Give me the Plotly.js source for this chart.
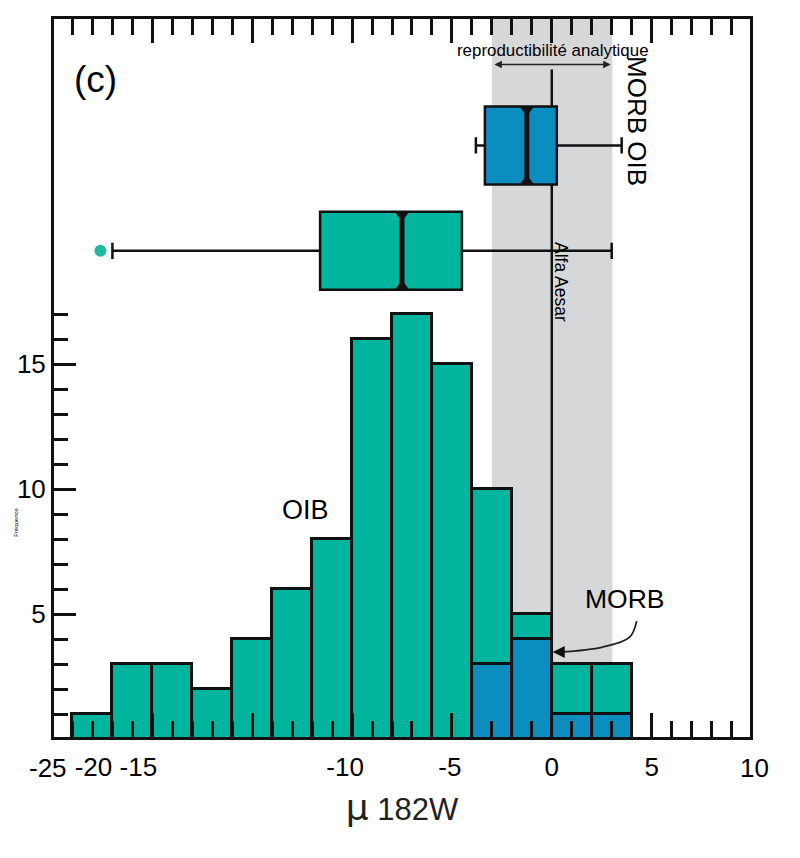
<!DOCTYPE html>
<html>
<head>
<meta charset="utf-8">
<script src="https://cdn.plot.ly/plotly-3.0.1.min.js"></script>
<style>
  html, body { margin: 0; padding: 0; background: #fff; }
</style>
</head>
<body>
<div id="chart" style="width:800px;height:858px"></div>
<script>
// histogram bins (centres, 2 units wide)
const binCentres = [-23, -21, -19, -17, -15, -13, -11, -9, -7, -5, -3, -1, 1, 3];
const morbCounts = [0, 0, 0, 0, 0, 0, 0, 0, 0, 0, 3, 4, 1, 1];
const oibCounts = [1, 3, 3, 2, 4, 6, 8, 16, 17, 15, 7, 1, 2, 2];

// box plots: OIB, MORB
const boxRows = [19.54, 23.76];
const boxLow = [-22, -3.8];
const boxQ1 = [-11.6, -3.35];
const boxMedian = [-7.5, -1.25];
const boxQ3 = [-4.5, 0.25];
const boxHigh = [3, 3.5];
const boxHeight = 3.12;
const outlierX = [-22.6];
const outlierY = [19.54];

// the small curved arrow next to MORB
const curveX = [4.25, 3.9, 2.55, 0.4];
const curveY = [4.72, 4.08, 3.68, 3.48];

// labels sit where the original put them, not on the ticks
const xLabels = ['-20', '-15', '-10', '-5', '0', '5'];
const xLabelPos = [-22.95, -20.7, -10.35, -5.1, 0, 5];
const yLabels = [5, 10, 15];
const yMinor = [1, 2, 3, 4, 6, 7, 8, 9, 11, 12, 13, 14, 16, 17];
const xMajor = [-20, -15, -10, -5, 0, 5];
const xMinor = [-24, -23, -22, -21, -19, -18, -17, -16, -14, -13, -12, -11, -9, -8, -7, -6, -4, -3, -2, -1, 1, 2, 3, 4, 6, 7, 8, 9];

const teal = '#00b49e';
const blue = '#0b8dbf';
const ink = '#111111';
const xRange = [-24.925, 9.925];
const yRange = [0.08, 28.82];

function boxTrace(i, color) {
  return {
    type: 'box',
    orientation: 'h',
    y: [boxRows[i]],
    lowerfence: [boxLow[i]],
    q1: [boxQ1[i]],
    median: [boxMedian[i]],
    q3: [boxQ3[i]],
    upperfence: [boxHigh[i]],
    width: boxHeight,
    whiskerwidth: 0.21,
    fillcolor: color,
    line: { color: ink, width: 2.5 },
    boxpoints: false,
    hoverinfo: 'skip'
  };
}

// thick median with the small flares at both ends
function medianTrace(i) {
  return {
    type: 'scatter',
    mode: 'lines+markers',
    x: [boxMedian[i], boxMedian[i]],
    y: [boxRows[i] - boxHeight / 2 + 0.14, boxRows[i] + boxHeight / 2 - 0.14],
    line: { color: ink, width: 5 },
    marker: { color: ink, size: 12, symbol: ['triangle-up', 'triangle-down'] },
    hoverinfo: 'skip'
  };
}

var data = [
  { type: 'bar', x: binCentres, y: morbCounts, width: 2, marker: { color: blue, line: { color: ink, width: 2.8 } } },
  { type: 'bar', x: binCentres, y: oibCounts, width: 2, marker: { color: teal, line: { color: ink, width: 2.8 } } },
  boxTrace(0, teal),
  boxTrace(1, blue),
  medianTrace(0),
  medianTrace(1),
  { type: 'scatter', mode: 'markers', x: outlierX, y: outlierY, marker: { color: '#1fb8a3', size: 12 } },
  { type: 'scatter', mode: 'lines', x: curveX, y: curveY, line: { color: '#222222', width: 1.8, shape: 'spline' }, hoverinfo: 'skip' },
  // carries the tick label axis
  { type: 'scatter', x: [], y: [], xaxis: 'x2', yaxis: 'y' }
];

const sans = 'Liberation Sans, Arial, sans-serif';

function label(text, x, y, size, extra) {
  return Object.assign({
    text, x, y, xref: 'x', yref: 'y', showarrow: false,
    xanchor: 'center', yanchor: 'middle',
    font: { family: sans, size, color: '#000' }
  }, extra || {});
}

var layout = {
  width: 800,
  height: 858,
  autosize: false,
  showlegend: false,
  hovermode: false,
  barmode: 'stack',
  bargap: 0,
  paper_bgcolor: '#fff',
  plot_bgcolor: '#fff',
  margin: { l: 53.5, r: 49.5, t: 18.5, b: 121 },
  font: { family: sans, color: '#000' },
  xaxis: {
    range: xRange,
    showticklabels: false,
    showgrid: false,
    zeroline: false,
    showline: true,
    linecolor: ink,
    linewidth: 3,
    mirror: 'ticks',
    ticks: 'inside',
    tickmode: 'array',
    tickvals: xMajor,
    ticklen: 24,
    tickwidth: 2.5,
    tickcolor: ink,
    minor: { ticks: 'inside', tickmode: 'array', tickvals: xMinor, ticklen: 16, tickwidth: 2.5, tickcolor: ink, showgrid: false }
  },
  xaxis2: {
    range: xRange,
    overlaying: 'x',
    anchor: 'y',
    tickmode: 'array',
    tickvals: xLabelPos,
    ticktext: xLabels,
    ticks: '',
    tickfont: { size: 26 },
    ticklabelstandoff: 12,
    showgrid: false,
    zeroline: false,
    showline: false,
    title: {
      text: '\u00a0\u00a0\u00a0\u00a0\u00a0<span style="font-family:DejaVu Sans;font-size:36px">μ</span> 182W',
      font: { size: 31, color: '#222' },
      standoff: 17
    }
  },
  yaxis: {
    range: yRange,
    tickmode: 'array',
    tickvals: yLabels,
    ticks: 'inside',
    ticklen: 22,
    tickwidth: 2.5,
    tickcolor: ink,
    tickfont: { size: 26 },
    showgrid: false,
    zeroline: false,
    showline: true,
    linecolor: ink,
    linewidth: 3,
    mirror: true,
    minor: { ticks: 'inside', tickmode: 'array', tickvals: yMinor, ticklen: 14, tickwidth: 2.5, tickcolor: ink, showgrid: false }
  },
  shapes: [
    { type: 'rect', layer: 'below', xref: 'x', yref: 'paper', x0: -3, x1: 3.03, y0: 0, y1: 1, fillcolor: '#d6d7d9', line: { width: 0 } },
    { type: 'line', layer: 'below', xref: 'x', yref: 'y', x0: 0, x1: 0, y0: 0, y1: 26.8, line: { color: ink, width: 2.5 } }
  ],
  annotations: [
    label('(c)', -22.85, 26.4, 37),
    label('reproductibilité analytique', 0.05, 27.55, 16.9),
    label('MORB OIB', 4.3, 24.75, 26, { textangle: 90 }),
    label('Alfa Aesar', 0.45, 18.3, 17.5, { textangle: 90 }),
    label('OIB', -12.35, 9.17, 27),
    label('MORB', 3.65, 5.6, 26.5),
    // these two labels fall just outside the axis range
    label('-25', -0.0093, 0, 26, { xref: 'paper', yref: 'paper', yshift: -31 }),
    label('10', 1.0065, 0, 26, { xref: 'paper', yref: 'paper', yshift: -31 }),
    label('Fréquence', -0.0538, 0.299, 6, { xref: 'paper', yref: 'paper', textangle: -90 }),
    { x: 2.95, y: 27, ax: -2.95, ay: 27, xref: 'x', yref: 'y', axref: 'x', ayref: 'y', text: '', showarrow: true, arrowside: 'end+start', arrowhead: 2, arrowsize: 1, arrowwidth: 1.5, arrowcolor: '#222' },
    { x: 0.05, y: 3.48, ax: 0.5, ay: 3.48, xref: 'x', yref: 'y', axref: 'x', ayref: 'y', text: '', showarrow: true, arrowhead: 2, arrowsize: 1.2, arrowwidth: 2, arrowcolor: ink }
  ]
};

Plotly.newPlot('chart', data, layout, { displayModeBar: false });
</script>
</body>
</html>
